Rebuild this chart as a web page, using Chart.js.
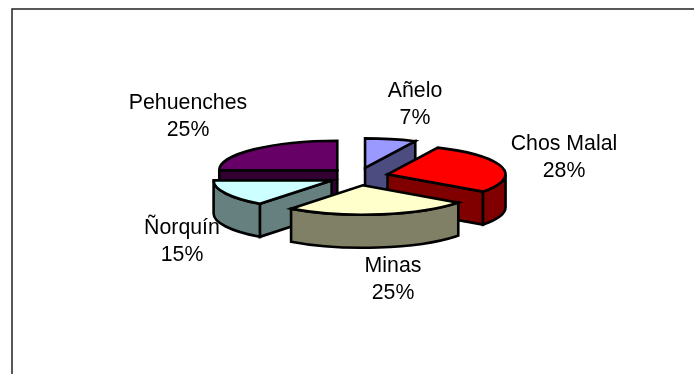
<!DOCTYPE html>
<html>
<head>
<meta charset="utf-8">
<style>
  html, body { margin: 0; padding: 0; background: #fff; }
  canvas { display: block; }
</style>
<script src="https://cdn.jsdelivr.net/npm/chart.js@4"></script>
</head>
<body>
<canvas id="chart" width="694" height="374"></canvas>
<script>
// DATA
const categories = ['Añelo', 'Chos Malal', 'Minas', 'Ñorquín', 'Pehuenches'];
const shares = [7, 28, 25.4, 14.6, 25];
const topColors = ['#9999FF', '#FF0000', '#FFFFCC', '#CCFFFF', '#660066'];
const wallColors = ['#4C4C80', '#800000', '#808066', '#668080', '#330033'];

// LOOK
const squash = 0.25;   // how flat the pie is tilted
const depth = 33;
const explode = 30;
const pieRadius = 118;
const labelFont = '21.3px "Liberation Sans", Arial, sans-serif';
const labelLine = 27.5;
// label centres (x, y of first line), same order as categories
const labelSpots = [[415, 91], [564, 144], [393, 266], [182, 228], [188, 103]];

function sliceGeometry(el) {
  const p = el.getProps(['x', 'y', 'startAngle', 'endAngle', 'outerRadius'], true);
  const mid = (p.startAngle + p.endAngle) / 2;
  const off = el.options.offset;
  return {
    cx: p.x + Math.cos(mid) * off,
    cy: p.y + Math.sin(mid) * off * squash * 1.18,
    r: p.outerRadius,
    a0: p.startAngle,
    a1: p.endAngle
  };
}

function rimPoint(g, a) {
  return [g.cx + Math.cos(a) * g.r, g.cy + Math.sin(a) * g.r * squash];
}

// flat quad going from apex to the rim, pushed down by depth
function drawCut(ctx, g, a, color) {
  const rim = rimPoint(g, a);
  ctx.beginPath();
  ctx.moveTo(g.cx, g.cy);
  ctx.lineTo(rim[0], rim[1]);
  ctx.lineTo(rim[0], rim[1] + depth);
  ctx.lineTo(g.cx, g.cy + depth);
  ctx.closePath();
  ctx.fillStyle = color;
  ctx.fill();
  ctx.stroke();
}

function drawOuterWall(ctx, g, color) {
  // only the part of the rim in front of the pie (sin > 0) can be seen
  let from = Math.max(g.a0, 0);
  let to = Math.min(g.a1, Math.PI);
  if (g.a0 >= Math.PI) { from = g.a0; to = g.a0; }
  if (to <= from) return;
  ctx.beginPath();
  ctx.ellipse(g.cx, g.cy, g.r, g.r * squash, 0, from, to);
  ctx.ellipse(g.cx, g.cy + depth, g.r, g.r * squash, 0, to, from, true);
  ctx.closePath();
  ctx.fillStyle = color;
  ctx.fill();
  ctx.stroke();
}

const tiltedPie = {
  id: 'tiltedPie',
  beforeDraw(chart) {
    const ctx = chart.ctx;
    // frame of the sheet, runs off the bottom and right of the picture
    ctx.save();
    ctx.strokeStyle = '#222';
    ctx.lineWidth = 1.5;
    ctx.beginPath();
    ctx.moveTo(12, 376);
    ctx.lineTo(12, 9);
    ctx.lineTo(696, 9);
    ctx.stroke();
    ctx.restore();
  },
  beforeDatasetDraw(chart, args) {
    const ctx = chart.ctx;
    const arcs = args.meta.data;
    const order = arcs.map((el, i) => i);
    const geo = arcs.map(sliceGeometry);
    order.sort((a, b) => geo[a].cy - geo[b].cy);

    ctx.save();
    ctx.strokeStyle = '#000';
    ctx.lineWidth = 2.6;
    ctx.lineJoin = 'miter';
    order.forEach(i => {
      const g = geo[i];
      // chart.js angles start at -PI/2, cut faces show when they look at the viewer
      if (Math.cos(g.a0) < 0 && g.a0 > Math.PI / 2) drawCut(ctx, g, g.a0, wallColors[i]);
      if (Math.cos(g.a1) > 0 && g.a1 < Math.PI / 2) drawCut(ctx, g, g.a1, wallColors[i]);
      drawOuterWall(ctx, g, wallColors[i]);

      ctx.beginPath();
      ctx.moveTo(g.cx, g.cy);
      ctx.ellipse(g.cx, g.cy, g.r, g.r * squash, 0, g.a0, g.a1);
      ctx.closePath();
      ctx.fillStyle = topColors[i];
      ctx.fill();
      ctx.stroke();
    });
    ctx.restore();
    return false;
  },
  afterDraw(chart) {
    const ctx = chart.ctx;
    ctx.save();
    ctx.font = labelFont;
    ctx.fillStyle = '#000';
    ctx.textAlign = 'center';
    ctx.textBaseline = 'middle';
    categories.forEach((name, i) => {
      const spot = labelSpots[i];
      ctx.fillText(name, spot[0], spot[1]);
      ctx.fillText(Math.round(shares[i]) + '%', spot[0], spot[1] + labelLine);
    });
    ctx.restore();
  }
};

new Chart(document.getElementById('chart'), {
  type: 'pie',
  data: {
    labels: categories,
    datasets: [{
      data: shares,
      backgroundColor: topColors,
      borderWidth: 0,
      offset: explode,
      radius: pieRadius
    }]
  },
  options: {
    responsive: false,
    animation: false,
    radius: pieRadius,
    layout: { padding: { left: 23, bottom: 21 } },
    plugins: { legend: { display: false }, tooltip: { enabled: false } }
  },
  plugins: [tiltedPie]
});
</script>
</body>
</html>
